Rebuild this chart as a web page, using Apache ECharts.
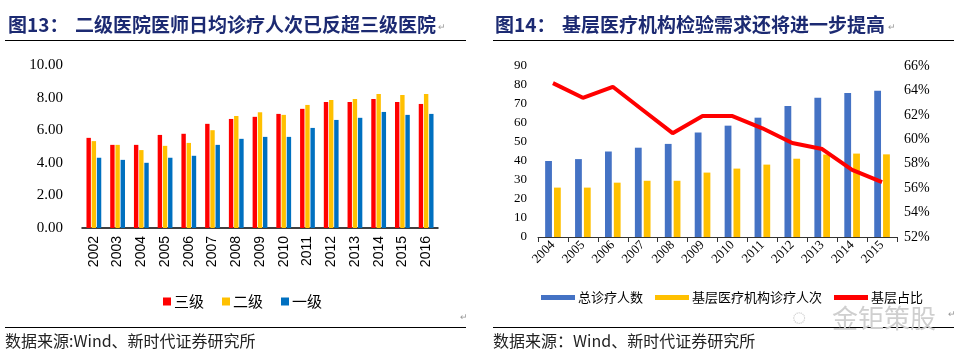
<!DOCTYPE html>
<html><head><meta charset="utf-8">
<script src="https://cdn.jsdelivr.net/npm/echarts@6/dist/echarts.min.js"></script>
<style>html,body{margin:0;padding:0;background:#fff}#c{width:954px;height:355px}</style>
</head><body><div id="c"></div>
<script>
// Left chart data
const yearsL = ['2002','2003','2004','2005','2006','2007','2008','2009','2010','2011','2012','2013','2014','2015','2016'];
const lv3 = [5.53,5.10,5.10,5.71,5.78,6.39,6.69,6.82,7.00,7.31,7.73,7.73,7.92,7.73,7.61];
const lv2 = [5.33,5.10,4.78,5.04,5.22,6.00,6.87,7.10,6.94,7.55,7.86,7.92,8.22,8.16,8.22];
const lv1 = [4.31,4.18,4.00,4.31,4.43,5.10,5.47,5.59,5.59,6.14,6.63,6.76,7.12,6.94,7.00];
const namesL = ['三级','二级','一级'];
// Right chart data
const yearsR = ['2004','2005','2006','2007','2008','2009','2010','2011','2012','2013','2014','2015'];
const total = [40,41,45,47,49,55,58.6,62.8,68.9,73.3,75.8,77];
const grass = [26,26,28.6,29.6,29.6,33.9,36,38.1,41.2,43.4,43.9,43.5];
const share = [64.6,63.4,64.3,62.4,60.5,61.9,61.9,60.9,59.7,59.2,57.5,56.5];
const namesR = ['总诊疗人数','基层医疗机构诊疗人次','基层占比'];

const chart = echarts.init(document.getElementById('c'));
const navy = '#1c2a72';
const cjk = '"Noto Sans CJK SC", sans-serif';
function txt(x,y,t,style){return {type:'text',x:x,y:y,style:Object.assign({text:t,textVerticalAlign:'middle'},style)};}
const opt = {
  animation:false,
  graphic:[
    txt(8,25,'图13：',{font:'bold 19px '+cjk,fill:navy}),
    txt(75,25,'二级医院医师日均诊疗人次已反超三级医院',{font:'bold 19px '+cjk,fill:navy}),
    txt(438,28,'↵',{font:'9px sans-serif',fill:'#999'}),
    txt(495,25,'图14：',{font:'bold 19px '+cjk,fill:navy}),
    txt(562,25,'基层医疗机构检验需求还将进一步提高',{font:'bold 19px '+cjk,fill:navy}),
    txt(888,28,'↵',{font:'9px sans-serif',fill:'#999'}),
    {type:'line',shape:{x1:5,y1:40.5,x2:466,y2:40.5},style:{stroke:'#000',lineWidth:1.2}},
    {type:'line',shape:{x1:493,y1:40.5,x2:954,y2:40.5},style:{stroke:'#000',lineWidth:1.2}},
    {type:'line',shape:{x1:5,y1:327.5,x2:466,y2:327.5},style:{stroke:'#000',lineWidth:1.2}},
    {type:'line',shape:{x1:493,y1:327.5,x2:954,y2:327.5},style:{stroke:'#000',lineWidth:1.2}},
    txt(5,341,'数据来源:Wind、新时代证券研究所',{font:'16px '+cjk,fill:'#222'}),
    txt(493,341,'数据来源：Wind、新时代证券研究所',{font:'16px '+cjk,fill:'#222'}),
    txt(460,318,'↵',{font:'9px sans-serif',fill:'#999'}),
    txt(948,315,'↵',{font:'9px sans-serif',fill:'#999'}),
    txt(792,318,'◌',{font:'24px sans-serif',fill:'#c8c8c8'}),
    txt(832,318,'金钜策股',{font:'26px '+cjk,fill:'#cfcfcf'})
  ],
  legend:[
    {data:namesL.map(n=>({name:n,icon:'rect'})),left:158,top:289,itemWidth:8,itemHeight:8,itemGap:18,
     textStyle:{fontFamily:cjk,fontSize:15,color:'#000',padding:[0,0,0,-2]}},
    {data:namesR.map(n=>({name:n,icon:'rect'})),left:536,top:286,itemWidth:34,itemHeight:5,itemGap:12,
     textStyle:{fontFamily:cjk,fontSize:13,color:'#000',padding:[0,0,0,-2]}}
  ],
  grid:[
    {left:82,top:65,width:356,height:163},
    {left:538,top:66,width:359,height:171}
  ],
  xAxis:[
    {type:'category',gridIndex:0,data:yearsL,axisLine:{lineStyle:{color:'#000',width:1.5}},axisTick:{show:false},
     axisLabel:{rotate:90,margin:8,fontFamily:'Liberation Sans',fontSize:14,color:'#000'}},
    {type:'category',gridIndex:1,data:yearsR,axisLine:{lineStyle:{color:'#333',width:1}},
     axisTick:{show:true,length:5,lineStyle:{color:'#333'}},
     axisLabel:{rotate:45,margin:6,fontFamily:'Liberation Serif',fontSize:13,color:'#000'}}
  ],
  yAxis:[
    {type:'value',gridIndex:0,min:0,max:10,interval:2,axisLine:{show:false},axisTick:{show:false},splitLine:{show:false},
     axisLabel:{formatter:v=>v.toFixed(2),margin:19,fontFamily:'Liberation Serif',fontSize:15,color:'#000'}},
    {type:'value',gridIndex:1,min:0,max:90,interval:10,axisLine:{show:false},axisTick:{show:false},splitLine:{show:false},
     axisLabel:{margin:11,fontFamily:'Liberation Serif',fontSize:13,color:'#000'}},
    {type:'value',gridIndex:1,position:'right',min:52,max:66,interval:2,axisLine:{show:false},axisTick:{show:false},splitLine:{show:false},
     axisLabel:{formatter:'{value}%',margin:7,fontFamily:'Liberation Serif',fontSize:14,color:'#000'}}
  ],
  series:[
    {name:namesL[0],type:'bar',xAxisIndex:0,yAxisIndex:0,data:lv3,barWidth:4.4,barGap:'18%',itemStyle:{color:'#FF0000'}},
    {name:namesL[1],type:'bar',xAxisIndex:0,yAxisIndex:0,data:lv2,barWidth:4.4,barGap:'18%',itemStyle:{color:'#FFC000'}},
    {name:namesL[2],type:'bar',xAxisIndex:0,yAxisIndex:0,data:lv1,barWidth:4.4,barGap:'18%',itemStyle:{color:'#0070C0'}},
    {name:namesR[0],type:'bar',xAxisIndex:1,yAxisIndex:1,data:total,barWidth:6.8,barGap:'30%',itemStyle:{color:'#4472C4'}},
    {name:namesR[1],type:'bar',xAxisIndex:1,yAxisIndex:1,data:grass,barWidth:6.8,barGap:'30%',itemStyle:{color:'#FFC000'}},
    {name:namesR[2],type:'line',xAxisIndex:1,yAxisIndex:2,data:share,symbol:'none',z:5,
     lineStyle:{color:'#FF0000',width:4},itemStyle:{color:'#FF0000'}}
  ]
};
chart.setOption(opt);
</script></body></html>
